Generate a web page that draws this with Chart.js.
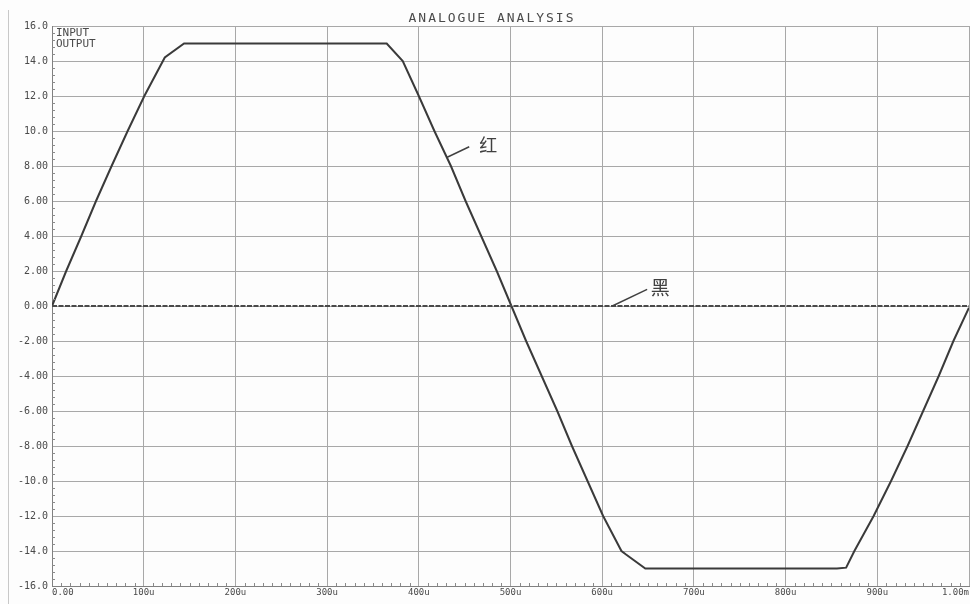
<!DOCTYPE html>
<html><head><meta charset="utf-8">
<script src="https://cdn.jsdelivr.net/npm/chart.js@4.4.1/dist/chart.umd.min.js"></script>
<style>html,body{margin:0;padding:0;background:#fff;}#wrap{width:970px;height:604px;position:relative;}</style>
</head><body><div id="wrap"><canvas id="c" width="970" height="604"></canvas></div>
<script>
const chartTitle = 'ANALOGUE ANALYSIS';
const seriesNames = ['INPUT', 'OUTPUT'];
// time in microseconds, values in volts
const outputTimeUs = [0, 15.5, 32, 48, 65, 82.5, 100.7, 123, 144, 365, 382.5, 400, 417, 435, 451, 468, 485, 501, 517, 534, 551, 567, 584, 601, 621, 626, 647, 856, 866, 875, 896, 915, 933, 950, 967, 983, 1000];
const outputV      = [0, 2, 4, 6, 8, 10, 12, 14.2, 15, 15, 14, 12, 10, 8, 6, 4, 2, 0, -2, -4, -6, -8, -10, -12, -14, -14.2, -15, -15, -14.95, -14, -12, -10, -8, -6, -4, -2, -0.1];
const inputTimeUs = [0, 1000];
const inputV      = [0, 0];
const xTickValues = [0, 100, 200, 300, 400, 500, 600, 700, 800, 900, 1000];
const xTickLabels = ['0.00', '100u', '200u', '300u', '400u', '500u', '600u', '700u', '800u', '900u', '1.00m'];
const yTickValues = [16, 14, 12, 10, 8, 6, 4, 2, 0, -2, -4, -6, -8, -10, -12, -14, -16];
const yTickLabels = ['16.0', '14.0', '12.0', '10.0', '8.00', '6.00', '4.00', '2.00', '0.00', '-2.00', '-4.00', '-6.00', '-8.00', '-10.0', '-12.0', '-14.0', '-16.0'];
const calloutTexts = ['红', '黑'];

const MONO = '"DejaVu Sans Mono", "Liberation Mono", monospace';
const TXT = '#4a4a4a';

const decor = {
  id: 'decor',
  beforeDraw(chart) {
    const ctx = chart.ctx;
    ctx.save();
    ctx.fillStyle = '#fdfdfd';
    ctx.fillRect(0, 0, chart.width, chart.height);
    ctx.strokeStyle = '#c8c8c8';
    ctx.lineWidth = 1;
    ctx.beginPath(); ctx.moveTo(8.5, 10); ctx.lineTo(8.5, chart.height); ctx.stroke();
    ctx.restore();
  },
  afterDatasetsDraw(chart, args, opts) {
    const ctx = chart.ctx, xs = chart.scales.x, ys = chart.scales.y, a = chart.chartArea;
    ctx.save();
    ctx.strokeStyle = '#8a8a8a';
    ctx.lineWidth = 1;
    ctx.beginPath();
    for (let v = 0; v <= 1000; v += 10) {
      if (v % 100 === 0) continue;
      const x = Math.round(xs.getPixelForValue(v)) + 0.5;
      ctx.moveTo(x, a.bottom); ctx.lineTo(x, a.bottom - 3);
    }
    for (let k = -40; k <= 40; k++) {
      if (k % 5 === 0) continue;
      const y = Math.round(ys.getPixelForValue(k * 0.4)) + 0.5;
      ctx.moveTo(a.left, y); ctx.lineTo(a.left + 3, y);
    }
    ctx.stroke();
    ctx.restore();
  },
  afterDraw(chart, args, opts) {
    const ctx = chart.ctx, xs = chart.scales.x, ys = chart.scales.y, a = chart.chartArea;
    ctx.save();
    ctx.fillStyle = TXT;
    ctx.font = '13px ' + MONO;
    ctx.letterSpacing = '2px';
    ctx.textAlign = 'center';
    ctx.textBaseline = 'alphabetic';
    ctx.fillText(chartTitle, 492, 22);
    ctx.letterSpacing = '0px';
    ctx.font = '11px ' + MONO;
    ctx.textAlign = 'left';
    ctx.textBaseline = 'middle';
    ctx.fillText(seriesNames[0], a.left + 4, 33);
    ctx.fillText(seriesNames[1], a.left + 4, 44);
    opts.callouts.forEach((c, i) => {
      const x1 = xs.getPixelForValue(c.from[0]), y1 = ys.getPixelForValue(c.from[1]);
      const x2 = xs.getPixelForValue(c.to[0]), y2 = ys.getPixelForValue(c.to[1]);
      ctx.strokeStyle = '#404040';
      ctx.lineWidth = 1.4;
      ctx.beginPath(); ctx.moveTo(x1, y1); ctx.lineTo(x2, y2); ctx.stroke();
      ctx.fillStyle = '#404040';
      ctx.font = c.size + 'px "Noto Sans CJK SC"';
      ctx.textAlign = 'left';
      ctx.textBaseline = 'middle';
      ctx.fillText(calloutTexts[i], xs.getPixelForValue(c.text[0]), ys.getPixelForValue(c.text[1]));
    });
    ctx.restore();
  }
};

new Chart(document.getElementById('c'), {
  type: 'line',
  data: {
    datasets: [
      {
        label: seriesNames[0],
        data: inputTimeUs.map((t, i) => ({ x: t, y: inputV[i] })),
        borderColor: '#4a4a4a', borderWidth: 2, borderDash: [5, 1.5],
        pointRadius: 0, fill: false, tension: 0
      },
      {
        label: seriesNames[1],
        data: outputTimeUs.map((t, i) => ({ x: t, y: outputV[i] })),
        borderColor: '#3a3a3a', borderWidth: 2,
        pointRadius: 0, fill: false, tension: 0
      }
    ]
  },
  options: {
    responsive: false,
    animation: false,
    devicePixelRatio: 1,
    layout: { padding: { left: 0, right: 1, top: 26, bottom: 0 } },
    plugins: {
      legend: { display: false },
      title: { display: false },
      tooltip: { enabled: false },
      decor: {
        callouts: [
          { from: [431, 8.5], to: [455, 9.1], text: [466, 9.2], size: 18 },
          { from: [611, 0], to: [649, 0.95], text: [653, 1.05], size: 19 }
        ]
      }
    },
    scales: {
      x: {
        type: 'linear', min: 0, max: 1000,
        afterFit(s) { s.height = 18; },
        afterBuildTicks(s) { s.ticks = xTickValues.map(v => ({ value: v })); },
        ticks: {
          align: 'inner', padding: 1, color: TXT,
          font: { family: MONO, size: 9 },
          maxRotation: 0, autoSkip: false,
          callback: (v) => { const i = xTickValues.indexOf(v); return i >= 0 ? xTickLabels[i] : ''; }
        },
        grid: { color: '#a8a8a8', lineWidth: 1, drawTicks: false },
        border: { display: true, color: '#808080', width: 1 }
      },
      y: {
        type: 'linear', min: -16, max: 16,
        afterFit(s) { s.width = 52; },
        afterBuildTicks(s) { s.ticks = yTickValues.map(v => ({ value: v })); },
        ticks: {
          padding: 4, color: TXT,
          font: { family: MONO, size: 10 },
          autoSkip: false,
          callback: (v) => { const i = yTickValues.indexOf(v); return i >= 0 ? yTickLabels[i] : ''; }
        },
        grid: { color: '#a8a8a8', lineWidth: 1, drawTicks: false },
        border: { display: true, color: '#808080', width: 1 }
      }
    }
  },
  plugins: [decor]
});
</script>
</body></html>
